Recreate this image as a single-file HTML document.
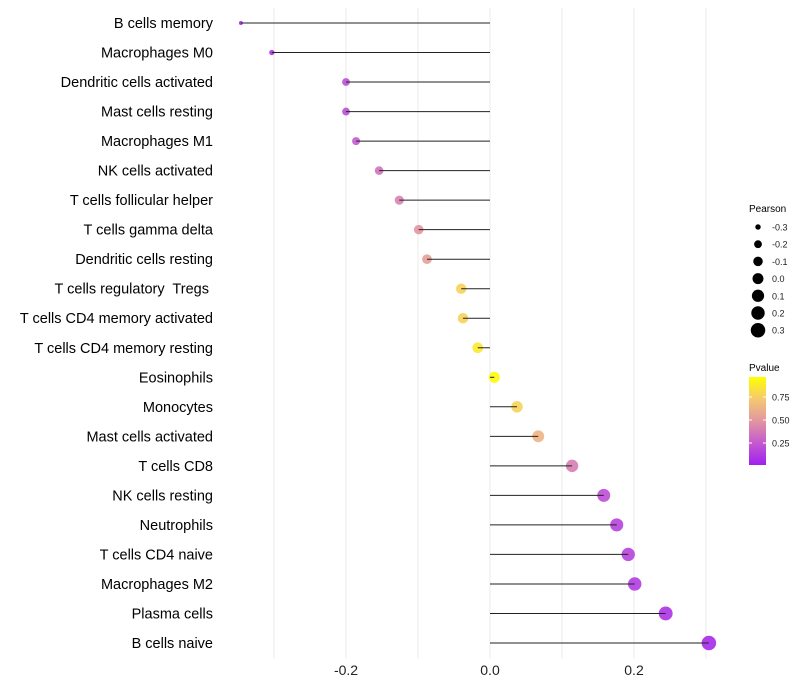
<!DOCTYPE html>
<html><head><meta charset="utf-8"><style>
body{margin:0;background:#fff;}
svg{display:block;font-family:"Liberation Sans",sans-serif;}
text{white-space:pre;}
</style></head><body>
<svg id="chart" width="800" height="700"></svg>
<script>
const categories=["B cells memory","Macrophages M0","Dendritic cells activated","Mast cells resting","Macrophages M1","NK cells activated","T cells follicular helper","T cells gamma delta","Dendritic cells resting","T cells regulatory  Tregs ","T cells CD4 memory activated","T cells CD4 memory resting","Eosinophils","Monocytes","Mast cells activated","T cells CD8","NK cells resting","Neutrophils","T cells CD4 naive","Macrophages M2","Plasma cells","B cells naive"];
const pearson=[-0.346,-0.303,-0.2,-0.2,-0.186,-0.154,-0.126,-0.099,-0.0875,-0.040,-0.0375,-0.017,0.006,0.0375,0.067,0.114,0.158,0.176,0.192,0.201,0.244,0.304];
const pvalue=[0.04,0.08,0.2,0.2,0.25,0.35,0.42,0.5,0.55,0.8,0.8,0.9,0.98,0.8,0.65,0.4,0.2,0.15,0.15,0.12,0.08,0.04];
const xTicks=[-0.2,0.0,0.2];
const xGrid=[-0.3,-0.2,-0.1,0,0.1,0.2,0.3];
const sizeLegend=[-0.3,-0.2,-0.1,0.0,0.1,0.2,0.3];
const colorTicks=[0.25,0.5,0.75];

const NS="http://www.w3.org/2000/svg";
const svg=document.getElementById('chart');
function mk(t,a,p){const e=document.createElementNS(NS,t);for(const k in a)e.setAttribute(k,a[k]);(p||svg).appendChild(e);return e;}
const x=v=>490+v*720;
const y=i=>23+i*(620/21);
const r=v=>Math.sqrt(Math.max(2.5,28+72*v))+0.2;
const stops=[[0,[160,32,240]],[0.25,[196,90,208]],[0.5,[226,150,160]],[0.75,[245,200,112]],[1,[255,255,0]]];
function col(p){for(let i=1;i<stops.length;i++){if(p<=stops[i][0]){const a=stops[i-1],b=stops[i],t=(p-a[0])/(b[0]-a[0]);return 'rgb('+a[1].map((c,j)=>Math.round(c+(b[1][j]-c)*t)).join(',')+')';}}return 'rgb(255,255,0)';}

xGrid.forEach(v=>{const g=mk('line',{x1:x(v),x2:x(v),y1:8,y2:658,stroke:'#ebebeb','stroke-width':1});

});

categories.forEach((c,i)=>{
 const t=mk('text',{x:213,y:y(i)+5,'text-anchor':'end','font-size':14.5,fill:'#000'});t.textContent=c;
 
 
 const d=mk('circle',{cx:x(pearson[i]),cy:y(i),r:r(pearson[i]),fill:col(pvalue[i]),'fill-opacity':0.9});
 
 
 const l=mk('line',{x1:x(0),x2:x(pearson[i]),y1:y(i),y2:y(i),stroke:'#222','stroke-width':1});
 
 
});
xTicks.forEach(v=>{const t=mk('text',{x:x(v),y:675,'text-anchor':'middle','font-size':14,fill:'#222'});t.textContent=v.toFixed(1);

});

const lt=mk('text',{x:749,y:212,'font-size':10,fill:'#000'});lt.textContent='Pearson';


sizeLegend.forEach((v,i)=>{const cy=227+i*17.2;
 const c=mk('circle',{cx:758,cy:cy,r:r(v),fill:'#000'});
 
 
 const t=mk('text',{x:772,y:cy+3.5,'font-size':9,fill:'#222'});t.textContent=v.toFixed(1);
 
 });
const ct=mk('text',{x:749,y:371,'font-size':10,fill:'#000'});ct.textContent='Pvalue';


const defs=mk('defs',{});const lg=mk('linearGradient',{id:'pg',x1:0,y1:1,x2:0,y2:0},defs);
stops.forEach(s=>mk('stop',{offset:s[0],'stop-color':'rgb('+s[1].join(',')+')'},lg));
const bar=mk('rect',{x:749,y:377,width:17,height:88,fill:'url(#pg)'});


colorTicks.forEach(v=>{const yy=466-v*92;
 mk('line',{x1:749,x2:752,y1:yy,y2:yy,stroke:'#fff'});mk('line',{x1:763,x2:766,y1:yy,y2:yy,stroke:'#fff'});
 const t=mk('text',{x:772,y:yy+3.5,'font-size':9,fill:'#222'});t.textContent=v.toFixed(2);
 
 });
</script>
</body></html>
